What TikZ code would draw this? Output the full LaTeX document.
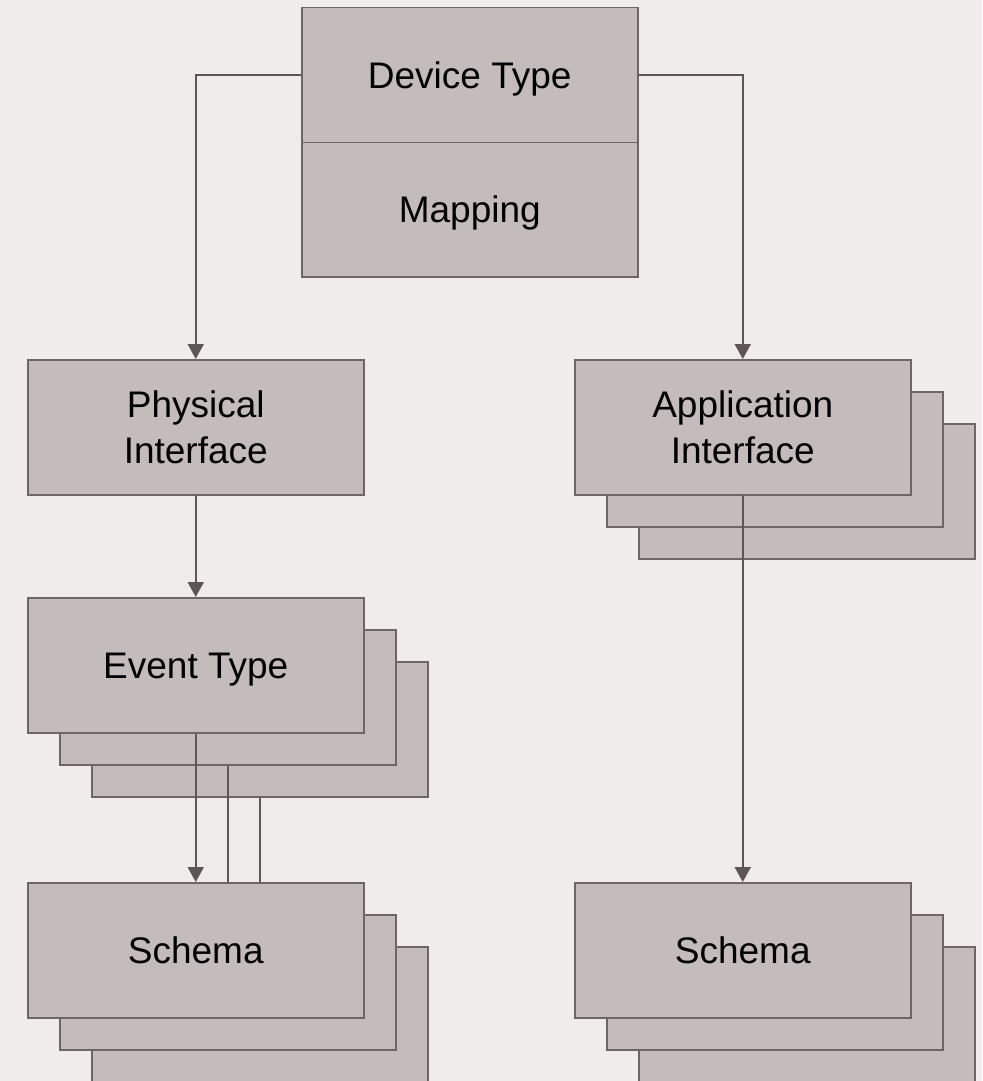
\documentclass[tikz,border=0pt]{standalone}
\usepackage{fontspec}
\setmainfont{Liberation Sans}
\usetikzlibrary{arrows.meta}
\definecolor{bgc}{HTML}{F0ECEB}
\definecolor{boxfill}{HTML}{C4BBBB}
\definecolor{boxline}{HTML}{6E6666}
\definecolor{conn}{HTML}{5E5656}
\tikzset{
  card/.style={draw=boxline, fill=boxfill, line width=1.5pt, rectangle, anchor=north west,
    minimum width=336pt, minimum height=135pt, inner sep=0pt, align=center,
    font=\fontsize{37}{46}\selectfont},
  oneline/.style={text height=26.5pt, text depth=0pt},
  half/.style={card, oneline, minimum height=134.5pt},
  link/.style={draw=conn, line width=2pt},
  arrowlink/.style={link, -{Triangle[width=16pt,length=15pt]}}
}
\begin{document}
\begin{tikzpicture}[x=1pt,y=-1pt]
\useasboundingbox (0,0) rectangle (982,1081);
\fill[bgc] (0,0) rectangle (982,1081);
% Device type
\node[half] (dev) at (301,7) {Device Type};
\node[half] (map) at (301,141.5) {Mapping};
% Physical interface
\node[card] (phys) at (27,359) {Physical\\Interface};
% Application interface stack
\node[card] (app3) at (638,423) {};
\node[card] (app2) at (606,391) {};
\node[card] (app) at (574,359) {Application\\Interface};
% Event type stack
\node[card] (ev3) at (91,661) {};
\node[card] (ev2) at (59,629) {};
\node[card, oneline] (ev) at (27,597) {Event Type};
% Schema left stack
\node[card] (schl3) at (91,946) {};
\node[card] (schl2) at (59,914) {};
\node[card, oneline] (schl) at (27,882) {Schema};
% Schema right stack
\node[card] (schr3) at (638,946) {};
\node[card] (schr2) at (606,914) {};
\node[card, oneline] (schr) at (574,882) {Schema};
% connectors
\draw[arrowlink] (dev.west) -| (phys.north);
\draw[arrowlink] (dev.east) -| (app.north);
\draw[arrowlink] (phys.south) -- (ev.north);
\draw[arrowlink] (ev.south) -- (schl.north);
\draw[link] (ev2.south) -- (ev2.south |- schl.north);
\draw[link] (ev3.south) -- (ev3.south |- schl.north);
\draw[arrowlink] (app.south) -- (schr.north);
\end{tikzpicture}
\end{document}
